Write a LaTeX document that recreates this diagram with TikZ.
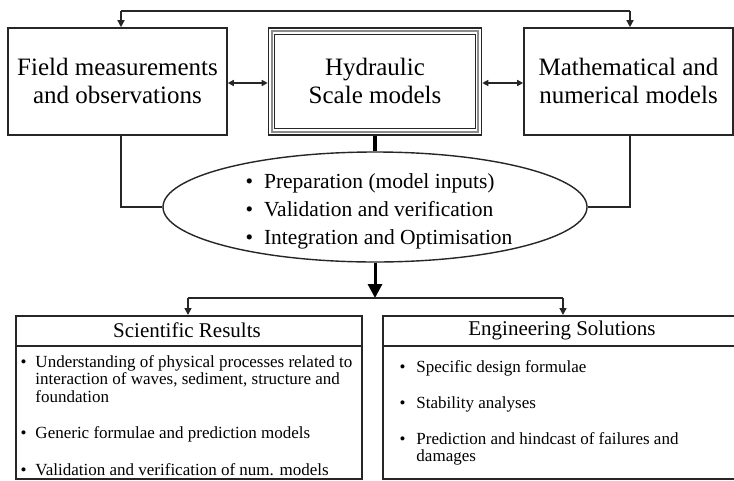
\documentclass[tikz,border=0pt]{standalone}
\usepackage{fontspec}
\setmainfont{Liberation Serif}
\usetikzlibrary{arrows.meta,shapes.geometric}
\begin{document}
\begin{tikzpicture}[x=1pt,y=-1pt,
  conn/.style={line width=1.4pt,black!85},
  twoway/.style={conn,{Triangle[length=6pt,width=6pt]}-{Triangle[length=6pt,width=6pt]}},
  down/.style={conn,-{Triangle[length=7pt,width=7pt]}},
  topbox/.style={draw=black!85,line width=1.6pt,fill=white,inner sep=0pt},
  boxtext/.style={font=\fontsize{25}{28}\selectfont,align=center,text=black},
  listtext/.style={font=\fontsize{17}{17.7}\selectfont,text=black,anchor=base west,align=left},
  headtext/.style={font=\fontsize{21}{24}\selectfont,text=black}]
\useasboundingbox (0,0) rectangle (734,480);
\clip (0,0) rectangle (734,480);
\fill[white] (0,0) rectangle (734,480);

% top boxes
\node[topbox,minimum width=219pt,minimum height=107pt] (field) at (117.5,81.5) {};
\node[topbox,minimum width=213pt,minimum height=107pt] (hyd) at (375,81.5) {};
\node[topbox,minimum width=209pt,minimum height=107pt] (math) at (628.5,81.5) {};
\draw[black!45,line width=2.2pt] ([shift={(4,4)}]hyd.north west) rectangle ([shift={(-4,-4)}]hyd.south east);
\draw[black!85,line width=1pt] ([shift={(7,7)}]hyd.north west) rectangle ([shift={(-7,-7)}]hyd.south east);

\node[boxtext] (fieldt) at (117.5,81) {Field measurements\\and observations};
\node[boxtext] (hydt) at (375,81) {Hydraulic\\Scale models};
\node[boxtext] (matht) at (628.5,81) {Mathematical and\\numerical models};

% ellipse
\node[ellipse,draw=black!85,line width=1.4pt,fill=white,minimum width=424pt,minimum height=110pt,inner sep=0pt] (ell) at (375,207) {};
\node[font=\fontsize{21.5}{28}\selectfont,align=left,text=black,anchor=west] (ellt) at (242,211) {\textbullet\hspace{11pt}Preparation (model inputs)\\\textbullet\hspace{11pt}Validation and verification\\\textbullet\hspace{11pt}Integration and Optimisation};

% top feedback line
\coordinate (tl) at (121,11);
\coordinate (tr) at (630,11);
\draw[conn] (tl) -- (tr);
\draw[down] (tl) -- (field.north -| tl);
\draw[down] (tr) -- (math.north -| tr);

% side arrows
\draw[twoway] (field.east |- 0,83) -- (hyd.west |- 0,83);
\draw[twoway] (hyd.east |- 0,83) -- (math.west |- 0,83);

% connections to ellipse
\draw[conn] (field.south -| tl) |- (ell.west);
\draw[conn] (math.south -| tr) |- (ell.east);
\draw[black,line width=4.5pt] (hyd.south) -- (ell.north);

% bottom boxes
\node[topbox,minimum width=346pt,minimum height=163pt,anchor=north west] (sci) at (15,315) {};
\node[topbox,minimum width=360pt,minimum height=163pt,anchor=north west] (eng) at (382,315) {};
\draw[black!85,line width=2pt] (sci.west |- 0,346) -- (sci.east |- 0,346);
\draw[black!85,line width=2pt] (eng.west |- 0,346) -- (eng.east |- 0,346);
\node[headtext] (scih) at (187,330) {Scientific Results};
\node[headtext] (engh) at (562,330) {Engineering Solutions};

% bottom arrows
\coordinate (split) at (375,298);
\coordinate (bl) at (188,298);
\coordinate (br) at (563,298);
\draw[black,line width=3pt,-{Triangle[length=14pt,width=14pt]}] (ell.south) -- (split);
\draw[conn] (bl) -- (br);
\draw[down] (bl) -- (sci.north -| bl);
\draw[down] (br) -- (eng.north -| br);

% lists
\node[listtext] (s1) at (17,367) {\textbullet\hspace{9pt}\parbox[t]{330pt}{Understanding of physical processes related to\\interaction of waves, sediment, structure and\\foundation}};
\node[listtext] (s2) at (17,438) {\textbullet\hspace{9pt}Generic formulae and prediction models};
\node[listtext] (s3) at (17,475) {\textbullet\hspace{9pt}Validation and verification of num. models};

\node[listtext] (e1) at (396,372) {\textbullet\hspace{11pt}Specific design formulae};
\node[listtext] (e2) at (396,408) {\textbullet\hspace{11pt}Stability analyses};
\node[listtext] (e3) at (396,444) {\textbullet\hspace{11pt}\parbox[t]{310pt}{Prediction and hindcast of failures and\\damages}};
\end{tikzpicture}
\end{document}
